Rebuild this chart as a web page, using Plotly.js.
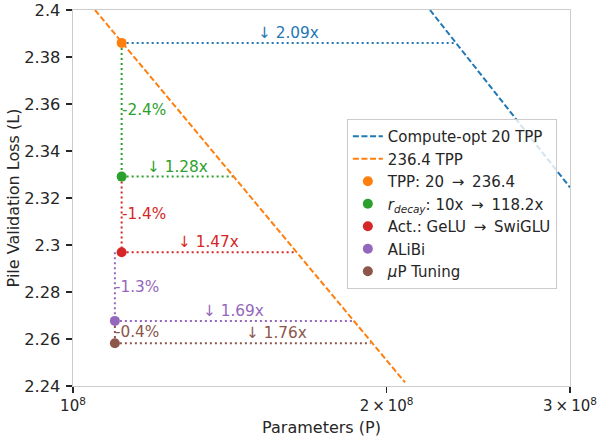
<!DOCTYPE html>
<html>
<head>
<meta charset="utf-8">
<script src="https://cdn.plot.ly/plotly-3.0.1.min.js"></script>
<style>html,body{margin:0;padding:0;background:#fff;}#chart{width:597px;height:437px;}</style>
</head>
<body>
<div id="chart"></div>
<script>
// ---- data ----
const optLabel = "Compute-opt 20 TPP";
const optParams = [2.2013e8, 3.0e8];
const optLoss = [2.4, 2.3245];

const tppLabel = "236.4 TPP";
const tppParams = [1.0498e8, 2.0835e8];
const tppLoss = [2.4, 2.2415];

const stepLabels = ["TPP: 20 \u2009→\u2009 236.4", "<i>r</i><sub><i>decay</i></sub>: 10x \u2009→\u2009 118.2x", "Act.: GeLU \u2009→\u2009 SwiGLU", "ALiBi", "<i>μ</i>P Tuning"];
const stepParams = [1.1135e8, 1.1135e8, 1.1135e8, 1.097e8, 1.097e8];
const stepLoss = [2.386, 2.3291, 2.2969, 2.2677, 2.2582];
const pctLabels = ["", "-2.4%", "-1.4%", "-1.3%", "-0.4%"];
const ratios = [2.09, 1.28, 1.47, 1.69, 1.76];
const ratioLabels = ["↓ 2.09x", "↓ 1.28x", "↓ 1.47x", "↓ 1.69x", "↓ 1.76x"];

const yTickVals = [2.24, 2.26, 2.28, 2.3, 2.32, 2.34, 2.36, 2.38, 2.4];
const yTickText = ["2.24", "2.26", "2.28", "2.3", "2.32", "2.34", "2.36", "2.38", "2.4"];
const xTickVals = [1e8, 2e8, 3e8];
const xTickText = ["10<sup>8</sup>", "2\u2009×\u200910<sup>8</sup>", "3\u2009×\u200910<sup>8</sup>"];

// ---- styles ----
const BLUE = "#1f77b4", ORANGE = "#ff7f0e";
const stepColors = ["#ff7f0e", "#2ca02c", "#d62728", "#9467bd", "#8c564b"];
const TXT = "#262626";
const FONT = "DejaVu Sans, sans-serif";
const DOT = "2px,3px";
const DASH = "6px,2.6px";
const ratioXShift = [0, 0, 0, 0, 34];

const traces = [];
const annotations = [];

// horizontal dotted guides (to the scaling line) and vertical dotted steps
for (let i = 0; i < stepParams.length; i++) {
  const c = i === 0 ? BLUE : stepColors[i];
  const pEnd = stepParams[i] * ratios[i];
  traces.push({x: [stepParams[i], pEnd], y: [stepLoss[i], stepLoss[i]], mode: "lines",
    line: {color: c, width: 2, dash: DOT}, showlegend: false, hoverinfo: "skip"});
  annotations.push({x: (Math.log10(stepParams[i]) + Math.log10(pEnd)) / 2, y: stepLoss[i],
    xref: "x", yref: "y", text: ratioLabels[i], showarrow: false, xanchor: "center", yanchor: "bottom",
    xshift: ratioXShift[i], yshift: -1, font: {family: FONT, size: 15.3, color: c}});
  if (i > 0) {
    traces.push({x: [stepParams[i], stepParams[i]], y: [stepLoss[i - 1], stepLoss[i]], mode: "lines",
      line: {color: stepColors[i], width: 2, dash: DOT}, showlegend: false, hoverinfo: "skip"});
    annotations.push({x: Math.log10(stepParams[i]), y: (stepLoss[i - 1] + stepLoss[i]) / 2,
      xref: "x", yref: "y", text: pctLabels[i], showarrow: false, xanchor: "left", yanchor: "middle",
      xshift: -2, font: {family: FONT, size: 15.3, color: stepColors[i]}});
  }
}

traces.push({x: optParams, y: optLoss, mode: "lines", name: optLabel,
  line: {color: BLUE, width: 2, dash: DASH}});
traces.push({x: tppParams, y: tppLoss, mode: "lines", name: tppLabel,
  line: {color: ORANGE, width: 2, dash: DASH}});
for (let i = 0; i < stepParams.length; i++) {
  traces.push({x: [stepParams[i]], y: [stepLoss[i]], mode: "markers", name: stepLabels[i],
    marker: {color: stepColors[i], size: 10}});
}

const layout = {
  width: 597, height: 437,
  margin: {l: 73, r: 27, t: 10, b: 51},
  paper_bgcolor: "#ffffff", plot_bgcolor: "#ffffff",
  font: {family: FONT, color: TXT, size: 15},
  showlegend: true,
  legend: {x: 0.551, y: 0.71, xanchor: "left", yanchor: "top",
    bgcolor: "rgba(255,255,255,0.8)", bordercolor: "#cccccc", borderwidth: 1,
    font: {family: FONT, size: 15, color: TXT}, itemwidth: 30, tracegroupgap: 0},
  xaxis: {type: "log", range: [8, Math.log10(3e8)], tickvals: xTickVals, ticktext: xTickText,
    ticks: "outside", ticklen: 6, tickwidth: 1.2, tickcolor: TXT,
    showline: true, mirror: true, linecolor: "#cccccc", linewidth: 1.3,
    showgrid: false, zeroline: false, tickfont: {family: FONT, size: 15, color: TXT},
    title: {text: "Parameters (P)", font: {family: FONT, size: 16, color: TXT}, standoff: 8}},
  yaxis: {range: [2.24, 2.4], tickvals: yTickVals, ticktext: yTickText,
    ticks: "outside", ticklen: 6, tickwidth: 1.2, tickcolor: TXT,
    showline: true, mirror: true, linecolor: "#cccccc", linewidth: 1.3,
    showgrid: false, zeroline: false, tickfont: {family: FONT, size: 16.3, color: TXT},
    ticklabelstandoff: 2,
    title: {text: "Pile Validation Loss (L)", font: {family: FONT, size: 16, color: TXT}, standoff: 0}},
  annotations: annotations
};

Plotly.newPlot("chart", traces, layout, {displayModeBar: false, staticPlot: true});
</script>
</body>
</html>
